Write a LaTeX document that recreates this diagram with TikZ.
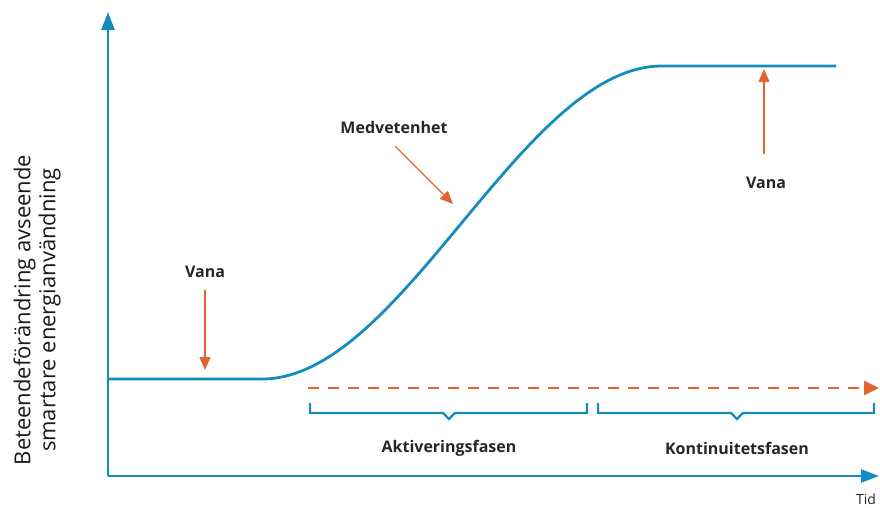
\documentclass[tikz,border=0pt]{standalone}
\usepackage{fontspec}
\setmainfont{Open Sans}
\usetikzlibrary{arrows.meta}
\definecolor{cblue}{RGB}{20,140,190}
\definecolor{corange}{RGB}{226,100,50}
\begin{document}
\begin{tikzpicture}[x=1pt,y=-1pt,
  axis/.style={draw=cblue,line width=2.5pt,-{Triangle[length=18pt,width=13pt]}},
  curve/.style={draw=cblue,line width=2.8pt},
  pointer/.style={draw=corange,line width=1.4pt,-{Triangle[length=13pt,width=11pt]}},
  dasharrow/.style={draw=corange,line width=2.6pt,dash pattern=on 11pt off 9pt,-{Triangle[length=15pt,width=14pt]}},
  bracket/.style={draw=cblue,line width=2.2pt},
  lbl/.style={font=\fontsize{16}{18}\selectfont\bfseries,text=black!85,inner sep=0pt},
  axlbl/.style={font=\fontsize{22}{25}\selectfont,text=black!90,align=center,inner sep=0pt}]
\useasboundingbox (0,0) rectangle (880,507);
% axes
\coordinate (O) at (108,476);
\coordinate (ytip) at (108,12);
\coordinate (xtip) at (879,476);
\draw[axis] (O) -- (ytip);
\draw[axis] (O) -- (xtip);
% curve
\coordinate (c0) at (108,379);
\coordinate (c1) at (262,379);
\coordinate (c2) at (662,66);
\coordinate (c3) at (836,66);
\draw[curve] (c0) -- (c1) .. controls (402,379) and (522,66) .. (c2) -- (c3);
% labels & pointers
\node[lbl] (v1) at (205,272) {Vana};
\coordinate (v1tip) at (205,370);
\draw[pointer] (205,290) -- (v1tip);
\node[lbl] (med) at (394,127) {Medvetenhet};
\coordinate (medtip) at (453,204);
\draw[pointer] (395,146) -- (medtip);
\node[lbl] (v2) at (766,183) {Vana};
\coordinate (v2tip) at (764,69);
\draw[pointer] (764,154) -- (v2tip);
% dashed arrow
\coordinate (d0) at (308,388);
\coordinate (d1) at (879,388);
\draw[dasharrow] (d0) -- (d1);
% brackets
\draw[bracket] (310,403) |- (443,413) -- (449,419) -- (455,413) -| (587,403);
\draw[bracket] (598,403) |- (731,413) -- (737,419) -- (743,413) -| (874,403);
\node[lbl] (akt) at (449,448) {Aktiveringsfasen};
\node[lbl] (kon) at (737,448) {Kontinuitetsfasen};
\node[lbl,font=\fontsize{14}{16}\selectfont] (tid) at (866,499) {Tid};
% y label
\node[axlbl,rotate=90] (ylab) at (37,310) {Beteendeförändring avseende\\smartare energianvändning};
\end{tikzpicture}
\end{document}
